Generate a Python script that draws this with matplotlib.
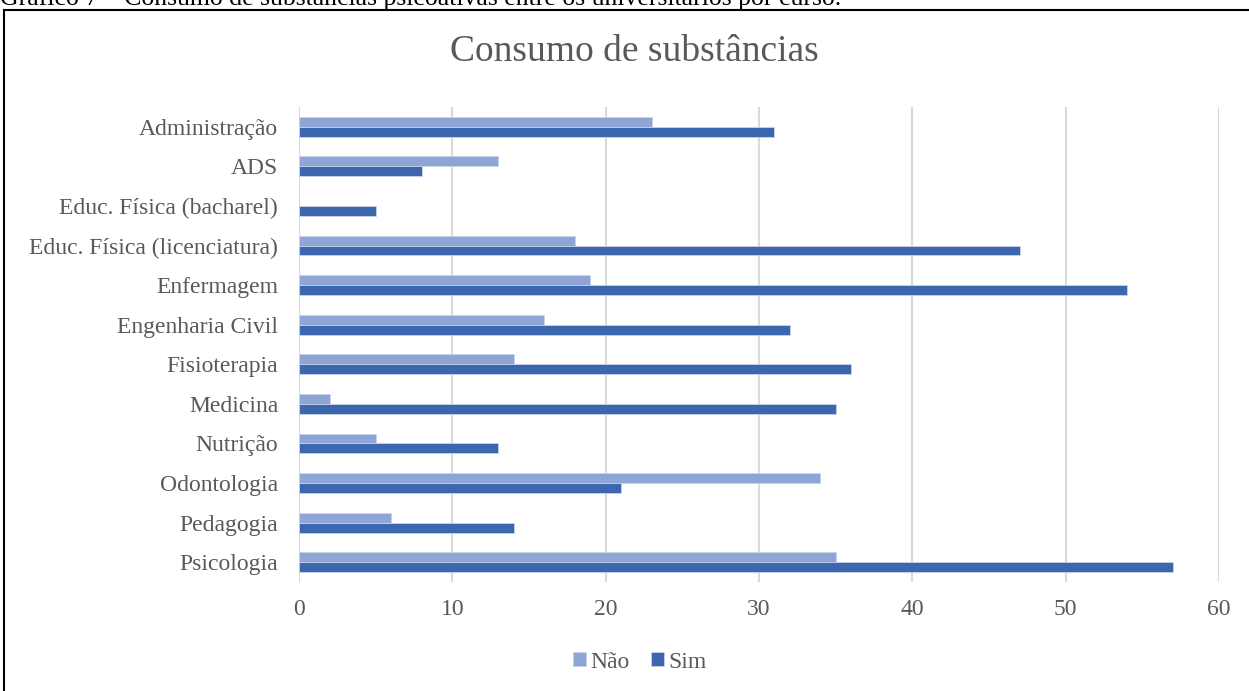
import matplotlib
matplotlib.use("Agg")
import matplotlib.pyplot as plt
from matplotlib.lines import Line2D
import numpy as np

categories = ["Administração", "ADS", "Educ. Física (bacharel)", "Educ. Física (licenciatura)",
              "Enfermagem", "Engenharia Civil", "Fisioterapia", "Medicina", "Nutrição",
              "Odontologia", "Pedagogia", "Psicologia"]
nao = [23, 13, 0, 18, 19, 16, 14, 2, 5, 34, 6, 35]
sim = [31, 8, 5, 47, 54, 32, 36, 35, 13, 21, 14, 57]
xticks = [0, 10, 20, 30, 40, 50, 60]

plt.rcParams['font.family'] = ['Liberation Serif', 'DejaVu Serif']
W, H = 1249, 691
fig = plt.figure(figsize=(W/100, H/100), dpi=100)
ax = fig.add_axes([299/W, 1-582/H, (1219-299)/W, (582-107)/H])

y = np.arange(len(categories))
h = 0.25
ax.barh(y - h/2, nao, height=h, color="#8FA5D5", edgecolor="#C9D3EA", linewidth=0.6, label="Não", zorder=3)
ax.barh(y + h/2, sim, height=h, color="#3C66AE", edgecolor="#C9D3EA", linewidth=0.6, label="Sim", zorder=3)
ax.set_ylim(len(categories) - 0.5, -0.5)
ax.set_xlim(0, 60)
ax.set_xticks(xticks)
ax.set_yticks(y)
ax.set_yticklabels(categories)
ax.tick_params(axis='both', length=0, labelsize=17, labelcolor="#595959")
ax.tick_params(axis='x', pad=12)
ax.tick_params(axis='y', pad=15)
ax.grid(axis='x', color="#D9D9D9", linewidth=1.5, zorder=0)
for s in ax.spines.values():
    s.set_visible(False)

fig.text(634/W, 1-52/H, "Consumo de substâncias", ha='center', va='center', fontsize=27, color="#595959")
leg = fig.legend(loc='center', bbox_to_anchor=(640/W, 1-662/H), ncol=2, frameon=False,
                 fontsize=17, labelcolor="#595959", handlelength=0.55, handleheight=0.55,
                 handletextpad=0.2, columnspacing=0.9)

# frame lines
fig.add_artist(Line2D([4/W, 4/W], [0, 1-10/H], color='black', linewidth=1.5, transform=fig.transFigure))
fig.add_artist(Line2D([4/W, 1], [1-10/H, 1-10/H], color='black', linewidth=1.5, transform=fig.transFigure))
fig.text(0, 1-5/H, "Gráfico 7 – Consumo de substâncias psicoativas entre os universitários por curso.",
         ha='left', va='baseline', fontsize=18.5, color='black')

fig.savefig("out.png", dpi=100, facecolor='white')
